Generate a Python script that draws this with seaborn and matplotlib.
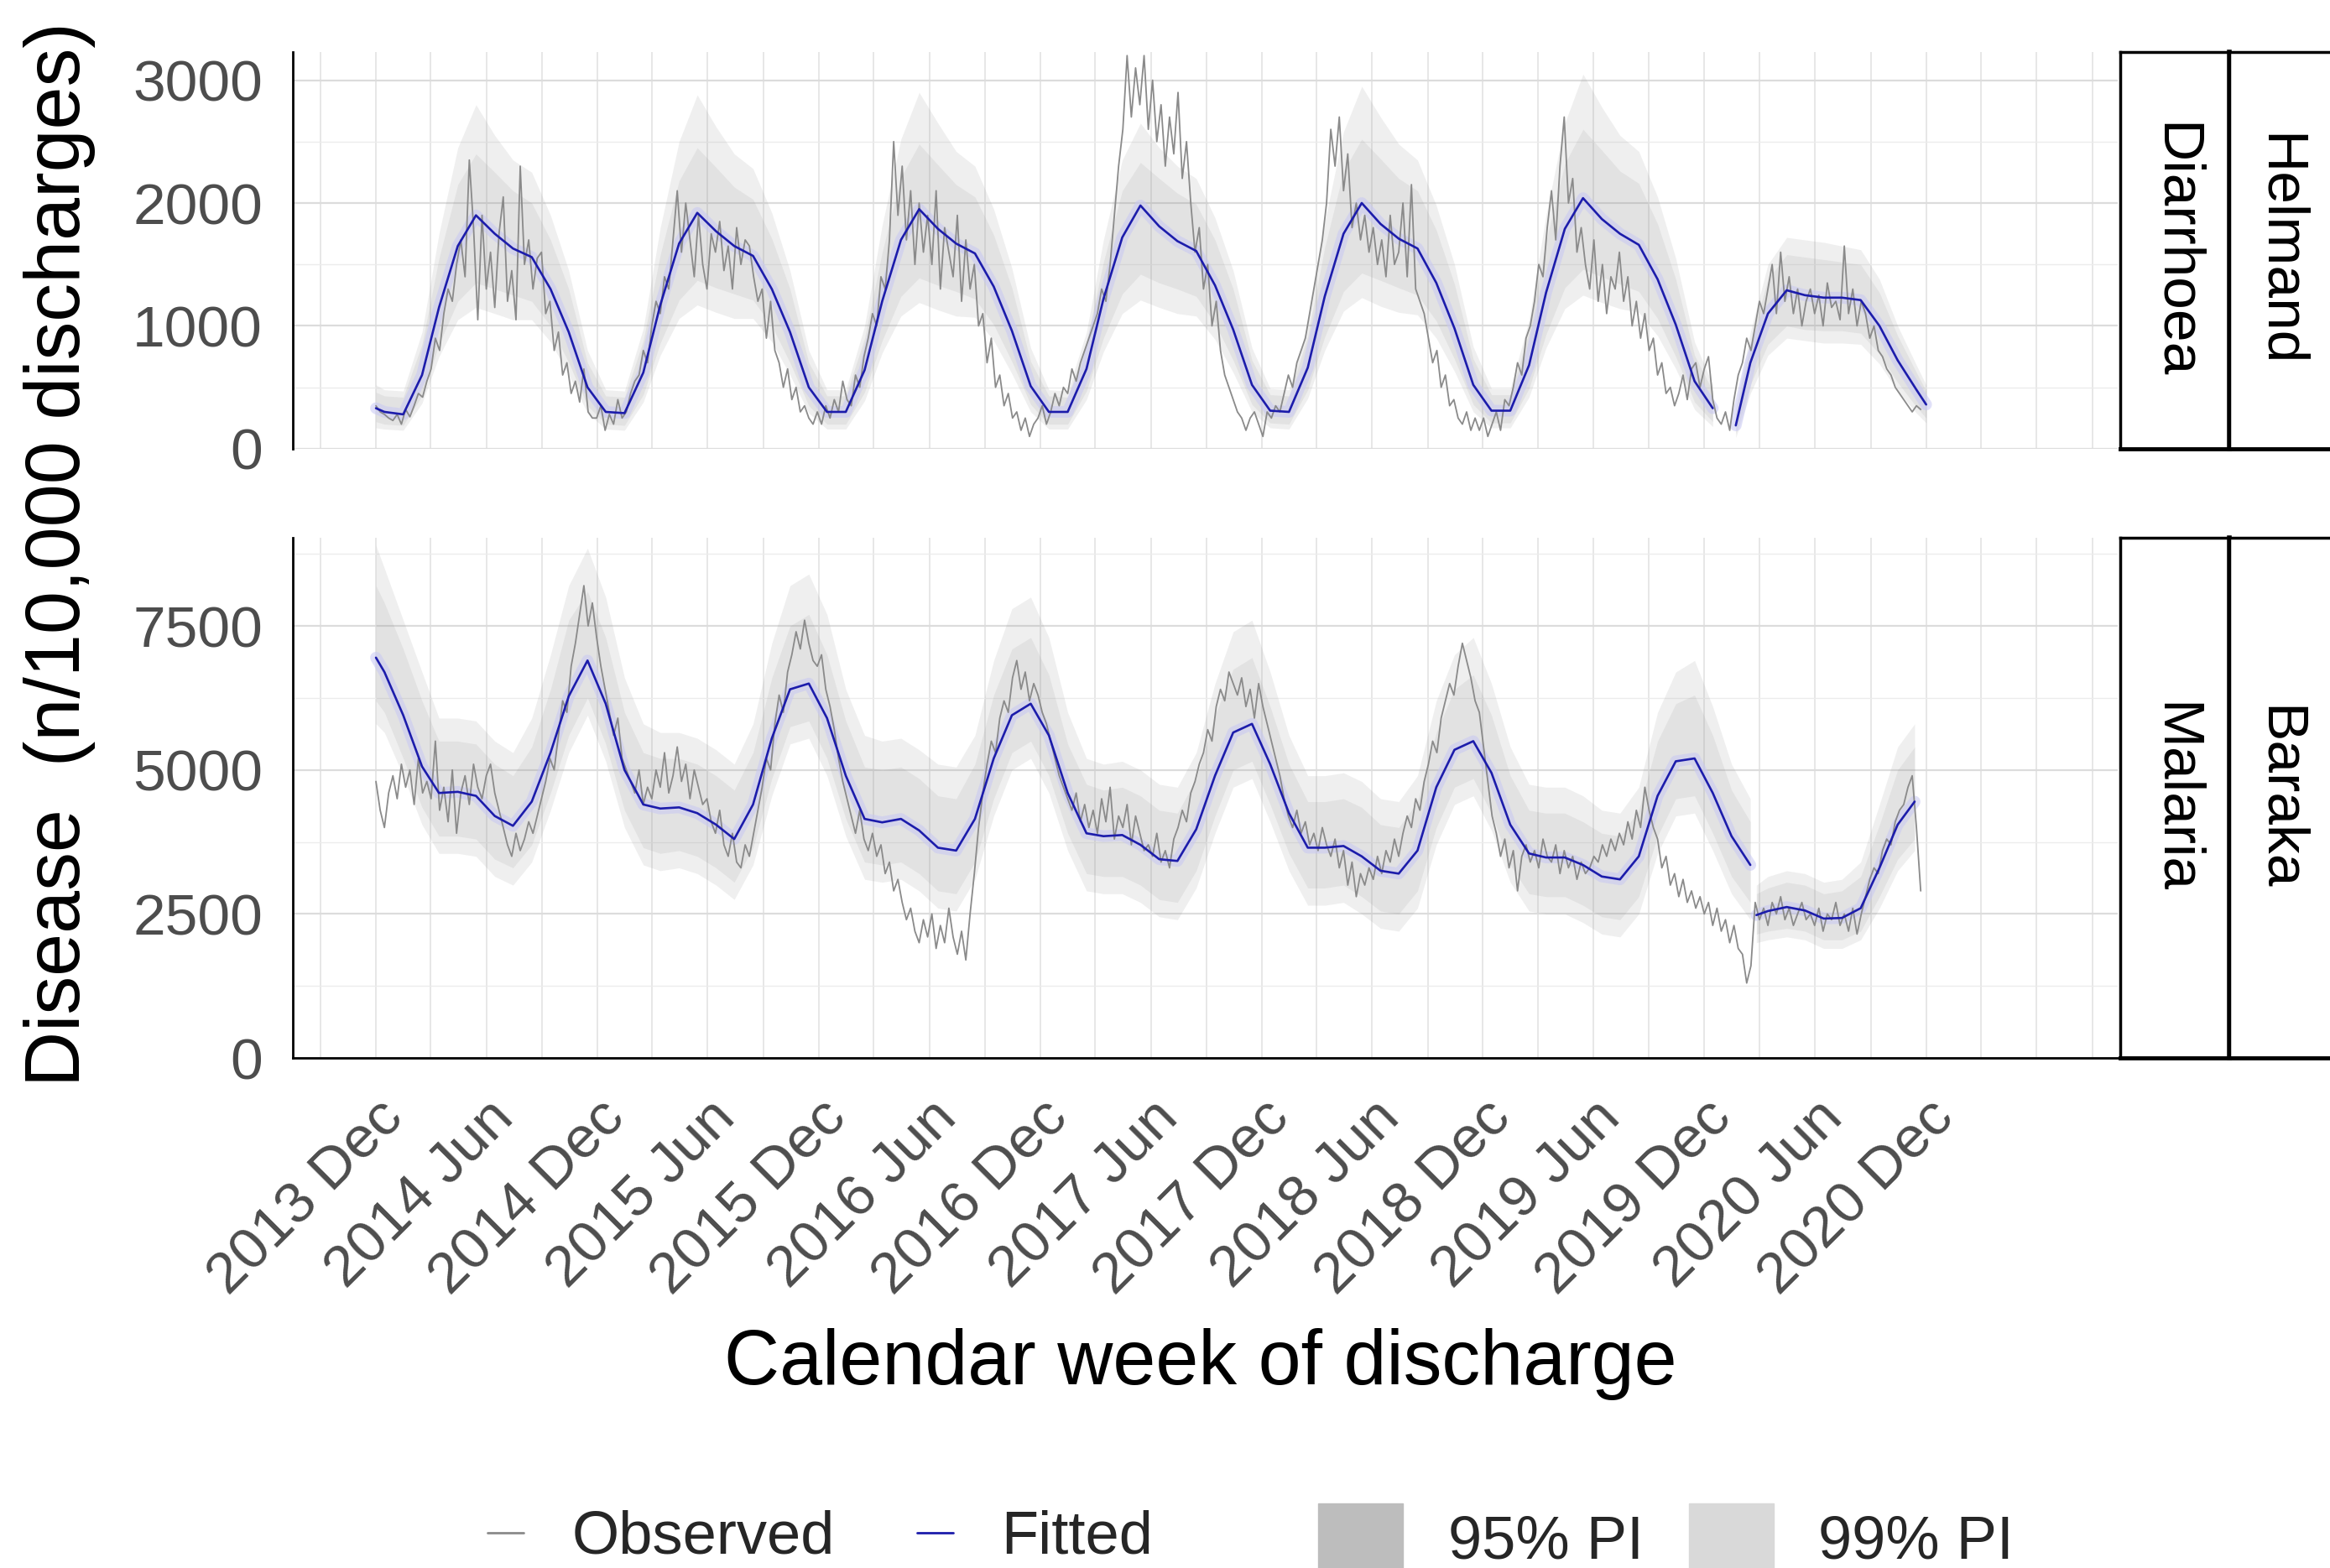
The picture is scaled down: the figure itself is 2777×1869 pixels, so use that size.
import pandas as pd
import seaborn as sns
import matplotlib.pyplot as plt
import matplotlib.dates as mdates
from matplotlib.ticker import FixedLocator
from matplotlib.lines import Line2D
from matplotlib.patches import Patch

# ---- data ---------------------------------------------------------------
# weekly observed rates from 2013-12-01; rows = Dec-Feb, Mar-May, Jun-Aug, Sep-Nov
diar_observed = [
    350, 300, 280, 250, 230, 280, 200, 320, 260, 350, 450, 420, 550,
    650, 900, 800, 1100, 1300, 1200, 1500, 1700, 1400, 2350, 1800, 1050, 1900,
    1300, 1600, 1150, 1750, 2050, 1200, 1450, 1050, 2300, 1500, 1700, 1300, 1550,
    1600, 1100, 1200, 800, 950, 600, 700, 450, 550, 380, 650, 300, 250,
    250, 350, 150, 280, 200, 400, 250, 300, 450, 550, 600, 800, 700,
    1000, 1200, 1100, 1400, 1300, 1700, 2100, 1600, 2000, 1700, 1400, 1900, 1500,
    1300, 1750, 1600, 1850, 1450, 1650, 1300, 1800, 1500, 1700, 1650, 1400, 1200,
    1300, 900, 1200, 800, 700, 500, 650, 400, 500, 300, 350, 250, 200,
    300, 200, 350, 250, 400, 300, 550, 400, 350, 600, 500, 750, 900,
    1100, 1000, 1400, 1300, 1700, 2500, 1900, 2300, 1700, 2100, 1500, 2000, 1600,
    1900, 1500, 2100, 1300, 1800, 1600, 1400, 1900, 1200, 1700, 1300, 1500, 1000,
    1100, 700, 900, 500, 600, 350, 450, 250, 300, 150, 250, 100, 200,
    250, 350, 200, 300, 450, 350, 500, 450, 650, 550, 700, 800, 900,
    1000, 1100, 1300, 1200, 1500, 1900, 2300, 2600, 3200, 2700, 3100, 2800, 3200,
    2600, 3000, 2500, 2800, 2300, 2700, 2400, 2900, 2200, 2500, 2000, 1600, 1800,
    1300, 1500, 1000, 1200, 800, 600, 500, 400, 300, 250, 150, 250, 300,
    200, 100, 300, 250, 350, 300, 450, 600, 500, 700, 800, 900, 1100,
    1300, 1500, 1700, 2000, 2600, 2300, 2700, 2100, 2400, 1800, 2000, 1700, 1900,
    1600, 1800, 1500, 1700, 1400, 1900, 1500, 1600, 2000, 1400, 2150, 1300, 1200,
    1100, 900, 700, 800, 500, 600, 350, 400, 250, 200, 300, 150, 250,
    150, 250, 100, 200, 300, 150, 400, 350, 500, 700, 600, 900, 1000,
    1200, 1500, 1400, 1800, 2100, 1700, 2300, 2700, 2000, 2200, 1600, 1800, 1500,
    1300, 1700, 1200, 1500, 1100, 1400, 1300, 1600, 1200, 1400, 1000, 1200, 900,
    1100, 800, 900, 600, 700, 450, 500, 350, 450, 600, 400, 650, 700,
    500, 650, 750, 400, 250, 200, 300, 150, 400, 600, 700, 900, 800,
    1000, 1200, 1100, 1300, 1500, 1100, 1600, 1200, 1400, 1100, 1300, 1000, 1200,
    1300, 1100, 1250, 1000, 1350, 1150, 1200, 1050, 1650, 1100, 1300, 1000, 1200,
    1100, 900, 1000, 800, 750, 650, 600, 500, 450, 400, 350, 300, 350,
    320,
]

mal_observed = [
    4800, 4300, 4000, 4600, 4900, 4500, 5100, 4700, 5000, 4400, 5200, 4600, 4800,
    4500, 5500, 4300, 4700, 4100, 5000, 3900, 4600, 4900, 4400, 5100, 4700, 4500,
    4900, 5100, 4600, 4300, 4000, 3700, 3500, 3900, 3600, 3800, 4100, 3900, 4200,
    4500, 4800, 5200, 5000, 5600, 6200, 6000, 6800, 7200, 7700, 8200, 7500, 7900,
    7300, 6800, 6400, 6000, 5600, 5900, 5200, 5000, 4800, 4600, 5000, 4400, 4700,
    4500, 5000, 4700, 5300, 4600, 4900, 5400, 4800, 5100, 4500, 5000, 4700, 4400,
    4500, 4100, 3900, 4300, 3700, 3500, 3900, 3400, 3300, 3700, 3500, 3900, 4300,
    4700, 5200, 5000, 5800, 6300, 6000, 6700, 7000, 7400, 7100, 7600, 7200, 6900,
    6800, 7000, 6400, 6100, 5700, 5200, 4800, 4500, 4200, 3900, 4300, 3800, 3600,
    3900, 3500, 3700, 3200, 3400, 2900, 3100, 2700, 2400, 2600, 2200, 2000, 2400,
    2100, 2500, 1900, 2300, 2000, 2600, 2100, 1800, 2200, 1700, 2500, 3200, 4000,
    4600, 5100, 5500, 5300, 5900, 6200, 6000, 6600, 6900, 6400, 6700, 6200, 6500,
    6300, 6000, 5800, 5500, 5200, 4900, 4700, 4500, 4300, 4600, 4100, 4400, 4000,
    4300, 3900, 4500, 4100, 4700, 3800, 4200, 4000, 4400, 3700, 4200, 3900, 3600,
    3700, 3500, 3900, 3400, 3600, 3300, 3800, 4000, 4300, 4100, 4600, 4800, 5100,
    5300, 5700, 5500, 6100, 6400, 6200, 6700, 6500, 6300, 6600, 6100, 6400, 5900,
    6500, 6100, 5800, 5500, 5200, 4900, 4500, 4200, 4000, 4300, 3900, 4100, 3700,
    3900, 3600, 4000, 3700, 3500, 3800, 3300, 3600, 3000, 3400, 2800, 3200, 3000,
    3300, 3100, 3500, 3200, 3600, 3400, 3800, 3500, 3900, 4200, 4000, 4500, 4300,
    4800, 5100, 5500, 5300, 5900, 6200, 6500, 6300, 6800, 7200, 6900, 6600, 6200,
    6000, 5400, 4800, 4200, 3900, 3500, 3800, 3300, 3600, 2900, 3500, 3700, 3400,
    3600, 3300, 3800, 3500, 3400, 3700, 3200, 3600, 3300, 3500, 3100, 3400, 3200,
    3300, 3500, 3400, 3700, 3500, 3800, 3600, 3900, 3700, 4100, 3800, 4300, 4000,
    4700, 4300, 4000, 3800, 3300, 3500, 3000, 3200, 2800, 3100, 2700, 2900, 2600,
    2800, 2500, 2700, 2300, 2600, 2200, 2400, 2000, 2300, 1900, 1800, 1300, 1600,
    2700, 2400, 2600, 2300, 2700, 2500, 2800, 2400, 2600, 2300, 2500, 2700, 2400,
    2500, 2300, 2600, 2200, 2500, 2400, 2700, 2300, 2500, 2200, 2600, 2150, 2500,
    2800, 3100, 3300, 3200, 3600, 3800, 3700, 4100, 4300, 4400, 4700, 4900, 4000,
    2900,
]

# fitted model + prediction intervals, first fit (2013-12-01, then the 15th of each month)
diar_fit = [330, 300,
            280, 600, 1150, 1650, 1900, 1750, 1630, 1560, 1300, 950, 500, 300,
            290, 620, 1170, 1670, 1920, 1770, 1650, 1570, 1300, 950, 500, 300,
            300, 640, 1200, 1700, 1950, 1790, 1670, 1590, 1320, 960, 510, 300,
            300, 650, 1220, 1720, 1980, 1810, 1690, 1610, 1330, 970, 520, 310,
            300, 660, 1240, 1750, 2000, 1830, 1710, 1630, 1350, 980, 520, 310,
            310, 680, 1270, 1790, 2040, 1870, 1750, 1660, 1380, 1010, 550, 330]
diar_up99 = [520, 480,
             470, 950, 1750, 2450, 2800, 2550, 2350, 2250, 1900, 1450, 800, 480,
             470, 980, 1800, 2500, 2880, 2620, 2400, 2280, 1920, 1450, 800, 480,
             480, 1000, 1820, 2520, 2900, 2650, 2420, 2300, 1950, 1470, 820, 480,
             470, 950, 1700, 2350, 2650, 2450, 2300, 2200, 1880, 1450, 820, 490,
             480, 1020, 1850, 2580, 2950, 2700, 2480, 2350, 1980, 1500, 830, 490,
             490, 1050, 1900, 2650, 3050, 2780, 2550, 2420, 2050, 1550, 870, 520]
diar_up95 = [460, 430,
             420, 850, 1550, 2150, 2400, 2250, 2100, 2000, 1700, 1300, 700, 430,
             420, 880, 1580, 2180, 2450, 2290, 2130, 2030, 1710, 1300, 700, 430,
             430, 900, 1600, 2210, 2480, 2310, 2150, 2050, 1740, 1310, 710, 430,
             420, 870, 1520, 2100, 2330, 2200, 2080, 1990, 1700, 1300, 720, 440,
             430, 920, 1640, 2260, 2520, 2360, 2200, 2100, 1780, 1340, 730, 440,
             440, 950, 1690, 2320, 2600, 2430, 2260, 2160, 1830, 1380, 760, 470]
diar_lo95 = [220, 200,
             190, 430, 850, 1200, 1350, 1300, 1250, 1200, 1000, 700, 350, 200,
             190, 440, 860, 1210, 1370, 1310, 1260, 1210, 1000, 700, 350, 200,
             200, 460, 880, 1240, 1390, 1330, 1280, 1220, 1010, 710, 360, 200,
             200, 470, 900, 1260, 1420, 1350, 1300, 1240, 1020, 720, 360, 210,
             200, 480, 910, 1280, 1430, 1370, 1310, 1250, 1040, 730, 360, 210,
             210, 490, 930, 1310, 1460, 1400, 1340, 1280, 1060, 750, 380, 220]
diar_lo99 = [170, 160,
             150, 370, 750, 1050, 1150, 1100, 1050, 1050, 870, 600, 290, 160,
             150, 380, 760, 1060, 1170, 1110, 1060, 1060, 870, 600, 290, 160,
             160, 390, 780, 1080, 1190, 1130, 1080, 1070, 880, 610, 300, 160,
             160, 400, 790, 1100, 1210, 1150, 1100, 1080, 890, 620, 300, 170,
             160, 410, 800, 1120, 1230, 1160, 1110, 1090, 900, 630, 300, 170,
             170, 420, 820, 1140, 1250, 1190, 1140, 1110, 920, 650, 320, 180]

mal_fit = [6950, 6700,
           5950, 5060, 4600, 4620, 4550, 4200, 4030, 4450, 5300, 6280, 6900, 6150,
           5000, 4400, 4330, 4350, 4250, 4050, 3800, 4400, 5550, 6400, 6500, 5900,
           4900, 4150, 4090, 4150, 3950, 3650, 3600, 4150, 5200, 5950, 6150, 5600,
           4600, 3900, 3850, 3870, 3700, 3450, 3420, 3970, 4900, 5650, 5800, 5100,
           4250, 3650, 3650, 3680, 3500, 3250, 3200, 3600, 4700, 5350, 5500, 4950,
           4050, 3550, 3480, 3480, 3350, 3150, 3100, 3500, 4550, 5150, 5200, 4600,
           3850, 3350]
mal_up99 = [8900, 8500,
            7600, 6700, 5900, 5900, 5850, 5500, 5300, 5900, 7000, 8200, 8850, 8000,
            6600, 5800, 5650, 5650, 5550, 5350, 5100, 5800, 7200, 8200, 8400, 7700,
            6400, 5600, 5500, 5550, 5350, 5100, 5050, 5600, 6900, 7800, 8000, 7300,
            6000, 5200, 5100, 5150, 5000, 4750, 4700, 5300, 6500, 7400, 7600, 6700,
            5600, 4900, 4900, 4950, 4800, 4500, 4450, 4900, 6200, 7000, 7300, 6500,
            5400, 4750, 4700, 4700, 4550, 4300, 4250, 4700, 6000, 6700, 6900, 6100,
            5100, 4500]
mal_up95 = [8200, 7900,
            7100, 6200, 5500, 5500, 5450, 5100, 4900, 5400, 6400, 7600, 8100, 7300,
            6000, 5300, 5200, 5200, 5100, 4900, 4650, 5300, 6600, 7500, 7700, 7000,
            5850, 5050, 5000, 5050, 4850, 4550, 4500, 5100, 6300, 7100, 7300, 6650,
            5450, 4750, 4650, 4700, 4550, 4300, 4250, 4850, 5950, 6750, 6950, 6100,
            5100, 4450, 4450, 4500, 4350, 4050, 4000, 4450, 5650, 6400, 6650, 5950,
            4900, 4300, 4250, 4250, 4100, 3900, 3850, 4300, 5500, 6150, 6300, 5600,
            4650, 4100]
mal_lo95 = [6200, 6000,
            5200, 4350, 3850, 3850, 3800, 3450, 3300, 3700, 4600, 5600, 6250, 5450,
            4300, 3650, 3550, 3600, 3500, 3300, 3050, 3650, 4850, 5750, 5850, 5200,
            4150, 3400, 3350, 3400, 3200, 2900, 2850, 3400, 4500, 5300, 5500, 4900,
            3900, 3200, 3150, 3150, 3000, 2750, 2700, 3250, 4200, 5000, 5150, 4400,
            3550, 2950, 2950, 3000, 2800, 2550, 2500, 2900, 4000, 4700, 4850, 4250,
            3350, 2850, 2800, 2800, 2650, 2450, 2400, 2800, 3850, 4500, 4550, 3900,
            3150, 2700]
mal_lo99 = [5800, 5650,
            4900, 4050, 3550, 3550, 3500, 3150, 3000, 3400, 4300, 5300, 5950, 5150,
            4000, 3350, 3250, 3300, 3200, 3000, 2750, 3350, 4550, 5450, 5550, 4900,
            3850, 3100, 3050, 3100, 2900, 2600, 2550, 3100, 4200, 5000, 5200, 4600,
            3600, 2900, 2850, 2850, 2700, 2450, 2400, 2950, 3900, 4700, 4850, 4100,
            3250, 2650, 2650, 2700, 2500, 2250, 2200, 2600, 3700, 4400, 4550, 3950,
            3050, 2550, 2500, 2500, 2350, 2150, 2100, 2500, 3550, 4200, 4250, 3600,
            2850, 2400]

# second fit (2020)
diar_dates2 = ['2020-01-22', '2020-02-15', '2020-03-15', '2020-04-15', '2020-05-15', '2020-06-15',
               '2020-07-15', '2020-08-15', '2020-09-15', '2020-10-15', '2020-11-15', '2020-12-01']
diar_fit2 = [190, 700, 1100, 1290, 1250, 1230, 1230, 1210, 1000, 720, 480, 360]
diar_up99_2 = [330, 950, 1500, 1720, 1700, 1680, 1650, 1620, 1380, 1000, 680, 520]
diar_up95_2 = [290, 870, 1380, 1580, 1560, 1540, 1520, 1500, 1270, 920, 620, 470]
diar_lo95_2 = [120, 520, 850, 1000, 970, 960, 960, 940, 770, 540, 340, 250]
diar_lo99_2 = [90, 450, 760, 900, 880, 860, 860, 850, 690, 470, 290, 210]

mal_dates2 = ['2020-02-25', '2020-03-15', '2020-04-15', '2020-05-15', '2020-06-15',
              '2020-07-15', '2020-08-15', '2020-09-15', '2020-10-15', '2020-11-12']
mal_fit2 = [2480, 2550, 2620, 2560, 2420, 2430, 2600, 3300, 4050, 4450]
mal_up99_2 = [3000, 3150, 3250, 3200, 3050, 3100, 3400, 4400, 5400, 5800]
mal_up95_2 = [2850, 2950, 3050, 3000, 2850, 2900, 3150, 4050, 5000, 5400]
mal_lo95_2 = [2150, 2200, 2250, 2200, 2050, 2050, 2200, 2800, 3450, 3800]
mal_lo99_2 = [2000, 2050, 2100, 2050, 1900, 1900, 2050, 2600, 3250, 3600]

tick_dates = pd.date_range('2013-12-01', '2020-12-01', freq='6MS')
grid_dates = pd.date_range('2013-09-01', '2021-09-01', freq='3MS')

OBS_COL = '#8a8a8a'
FIT_COL = '#1c1cab'
TXT_GREY = '#4d4d4d'


def fit_dates(n):
    d = pd.date_range('2013-12-01', periods=n - 1, freq='MS') + pd.Timedelta(days=14)
    return pd.DatetimeIndex([pd.Timestamp('2013-12-01')]).append(d)


def draw_panel(ax, observed, fit1, bands1, dates2, fit2, bands2, ylim, yticks, yminor):
    d1 = fit_dates(len(fit1))
    d2 = pd.to_datetime(dates2)
    for d, (up99, up95, lo95, lo99) in [(d1, bands1), (d2, bands2)]:
        ax.fill_between(d, lo99, up99, color='#8a8a8a', alpha=0.13, lw=0)
        ax.fill_between(d, lo95, up95, color='#8a8a8a', alpha=0.12, lw=0)

    fit_df = pd.concat([
        pd.DataFrame({'date': d1, 'rate': fit1, 'seg': 1}),
        pd.DataFrame({'date': d2, 'rate': fit2, 'seg': 2}),
    ])
    obs_df = pd.DataFrame({'date': pd.date_range('2013-12-01', periods=len(observed), freq='7D'),
                           'rate': observed})

    sns.lineplot(data=fit_df, x='date', y='rate', units='seg', estimator=None,
                 color='#c8c8f4', alpha=0.55, lw=10, ax=ax, legend=False)
    sns.lineplot(data=obs_df, x='date', y='rate', color=OBS_COL, lw=1.3, ax=ax, legend=False)
    sns.lineplot(data=fit_df, x='date', y='rate', units='seg', estimator=None,
                 color=FIT_COL, lw=1.9, ax=ax, legend=False)

    ax.set_xlim(pd.Timestamp('2013-07-17'), pd.Timestamp('2021-10-13'))
    ax.set_ylim(*ylim)
    ax.set_xlabel('')
    ax.set_ylabel('')

    ax.yaxis.set_major_locator(FixedLocator(yticks))
    ax.yaxis.set_minor_locator(FixedLocator(yminor))
    ax.xaxis.set_major_locator(FixedLocator(mdates.date2num(tick_dates.to_pydatetime())))
    ax.xaxis.set_minor_locator(FixedLocator(mdates.date2num(grid_dates.to_pydatetime())))
    ax.xaxis.remove_overlapping_locs = False
    ax.xaxis.set_major_formatter(mdates.DateFormatter('%Y %b'))

    ax.set_axisbelow(True)
    ax.grid(which='major', axis='y', color='#dcdcdc', lw=1.6)
    ax.grid(which='minor', axis='y', color='#ececec', lw=1.0)
    ax.grid(which='minor', axis='x', color='#e3e3e3', lw=1.2)
    ax.grid(which='major', axis='x', visible=False)

    ax.tick_params(axis='y', which='major', length=10, width=2, color='black',
                   labelsize=50, labelcolor=TXT_GREY, pad=16)
    ax.tick_params(axis='both', which='minor', length=0)
    for side in ['top', 'right']:
        ax.spines[side].set_visible(False)
    ax.spines['left'].set_color('black')
    ax.spines['left'].set_linewidth(2)


sns.set_theme(style='white')
plt.rcParams['font.family'] = ['Liberation Sans', 'DejaVu Sans']

fig = plt.figure(figsize=(27.77, 18.69), dpi=100)
ax_top = fig.add_axes([0.1257, 0.7138, 0.7832, 0.2531])
ax_bot = fig.add_axes([0.1257, 0.3253, 0.7832, 0.3317])

draw_panel(ax_top, diar_observed, diar_fit, (diar_up99, diar_up95, diar_lo95, diar_lo99),
           diar_dates2, diar_fit2, (diar_up99_2, diar_up95_2, diar_lo95_2, diar_lo99_2),
           (0, 3230), [0, 1000, 2000, 3000], [500, 1500, 2500])
draw_panel(ax_bot, mal_observed, mal_fit, (mal_up99, mal_up95, mal_lo95, mal_lo99),
           mal_dates2, mal_fit2, (mal_up99_2, mal_up95_2, mal_lo95_2, mal_lo99_2),
           (0, 9030), [0, 2500, 5000, 7500], [1250, 3750, 6250, 8750])

ax_top.spines['bottom'].set_visible(False)
ax_top.tick_params(axis='x', which='both', length=0, labelbottom=False)

ax_bot.spines['bottom'].set_color('black')
ax_bot.spines['bottom'].set_linewidth(2)
ax_bot.tick_params(axis='x', which='major', length=10, width=2, color='black',
                   labelsize=50, labelcolor=TXT_GREY, pad=18)
for lab in ax_bot.get_xticklabels():
    lab.set_rotation(45)
    lab.set_ha('right')
    lab.set_rotation_mode('anchor')

# facet strips
for (bottom, height), inner, outer in [((0.7138, 0.2531), 'Diarrhoea', 'Helmand'),
                                       ((0.3253, 0.3317), 'Malaria', 'Baraka')]:
    for left, label, tx in [(0.9100, inner, 0.5), (0.9568, outer, 0.45)]:
        sax = fig.add_axes([left, bottom, 0.0468, height])
        sax.set_facecolor('white')
        sax.set_xticks([])
        sax.set_yticks([])
        for s in sax.spines.values():
            s.set_visible(True)
            s.set_color('black')
            s.set_linewidth(2.5)
        sax.spines['bottom'].set_linewidth(3.5)
        if label == inner:
            sax.spines['right'].set_linewidth(4)
        sax.text(tx, 0.5, label, rotation=-90, ha='center', va='center',
                 fontsize=50, color='black', transform=sax.transAxes)

fig.text(71 / 2777, 1 - 661 / 1869, 'Disease  (n/10,000 discharges)', rotation=90,
         ha='center', va='center', fontsize=66, color='black')
fig.text(1431 / 2777, 1 - 1626 / 1869, 'Calendar week of discharge',
         ha='center', va='center', fontsize=66, color='black')

fig.legend(handles=[Line2D([], [], color=OBS_COL, lw=2), Line2D([], [], color=FIT_COL, lw=2)],
           labels=['Observed', 'Fitted'], loc='center', bbox_to_anchor=(0.352, 0.019),
           ncol=2, frameon=False, fontsize=52, handlelength=0.6, handletextpad=0.8,
           columnspacing=1.35, borderpad=0, borderaxespad=0)
fig.legend(handles=[Patch(color='#bdbdbd'), Patch(color='#d9d9d9')],
           labels=['95% PI', '99% PI'], loc='center', bbox_to_anchor=(0.715, 0.019),
           ncol=2, frameon=False, fontsize=52, handlelength=1.4, handleheight=1.4,
           handletextpad=0.74, columnspacing=0.75, borderpad=0, borderaxespad=0)

fig.savefig('out.png', dpi=100)
